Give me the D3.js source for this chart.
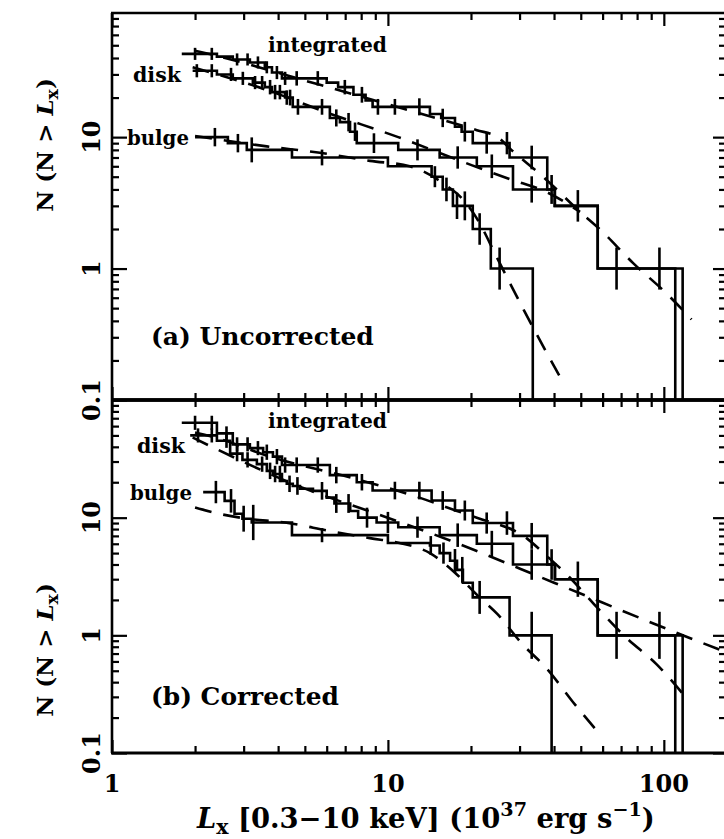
<!DOCTYPE html>
<html><head><meta charset="utf-8">
<script src="https://cdn.jsdelivr.net/npm/d3@7/dist/d3.min.js"></script>
<style>body{margin:0;background:#fff}svg{display:block}</style>
</head><body>
<svg id="c" width="724" height="839"></svg>
<script>
// ---------- DATA ----------
// step curves: segment i spans L[i]..L[i+1] at level N[i]; last point drops to zero
const intA_L  = [1.79,2.40,2.74,3.16,3.58,3.80,4.13,6.0,6.6,7.5,8.3,8.8,14.2,15.6,17.5,18.5,20.3,27.6,37.8,40.3,57.6,117];
const intA_N  = [43,41,39,37,34,31,28,26,24,21,19,17,15,14,12,11,9,7,4,3,1];
const diskA_L = [1.96,2.40,2.74,3.24,3.58,3.80,4.24,4.52,6.16,6.70,7.29,7.71,10.9,15.4,21.0,28.4,40.2,57.6,110];
const diskA_N = [32,30,28,26,24,22,20,17,14,13,11,9,8,7,6,4,3,1];
const bulgeA_L = [2.0,2.63,3.08,4.49,10.0,14.4,15.8,17.2,20.3,23.6,33.5];
const bulgeA_N = [10,9,8,7,6,5,4,3,2,1];

const intB_L  = [1.79,2.40,2.74,3.16,3.53,3.83,4.13,6.16,7.71,8.8,14.4,17.5,20.3,28.4,37.8,40.3,57.6,117];
const intB_N  = [64,52,42,39,36,33,28,23,20,17,14,11.5,9,7,4,3,1];
const diskB_L = [1.92,2.40,2.68,2.97,3.35,3.64,3.83,4.13,4.30,4.52,4.80,5.35,6.0,6.4,7.3,7.8,9.1,10.9,15.4,21.0,28.4,40.3,57.6,110];
const diskB_N = [50,45,35,31,28.5,25,23.5,20.5,19.4,18.6,17.6,16.9,14.8,13.2,11.4,10,9.1,8.3,7.1,6.0,4.0,3.0,1.0];
const bulgeB_L = [2.14,2.56,2.78,2.97,3.21,4.49,10.0,14.2,15.4,16.8,17.8,18.7,20.3,27.6,39.2];
const bulgeB_N = [16.5,13.9,10.8,9.8,9.1,7.1,6.1,5.8,5.0,4.3,3.6,2.8,2.1,1.0];

// error-bar markers: [L, half-length in dex]
const intA_err = [[2.0,.046],[2.3,.046],[2.84,.046],[3.1,.046],[3.38,.046],[3.64,.046],[3.96,.05],[4.24,.05],[4.67,.055],[5.57,.055],[6.98,.055],[8.05,.06],[9.2,.06],[10.6,.06],[13.0,.065],[15.8,.07],[19.0,.075],[22.8,.08],[27.0,.085],[33.2,.09],[39.2,.11],[48.8,.12],[67.4,.16],[96.4,.16]];
const diskA_err = [[2.03,.05],[2.3,.05],[2.7,.05],[2.98,.05],[3.3,.05],[3.5,.05],[3.74,.055],[3.9,.055],[4.06,.055],[4.3,.055],[4.42,.06],[4.72,.06],[5.77,.06],[6.5,.065],[7.2,.07],[7.6,.07],[8.9,.075],[12.8,.08],[17.9,.085],[23.8,.09],[33.2,.1]];
const bulgeA_err = [[2.36,.07],[2.86,.07],[3.21,.095],[5.77,.06],[14.8,.08],[16.3,.09],[17.8,.1],[19.0,.11],[21.5,.12],[25.4,.16]];

const intB_err = [[2.0,.06],[2.3,.06],[2.6,.06],[2.84,.06],[3.1,.06],[3.38,.06],[3.64,.065],[3.96,.065],[4.24,.065],[4.67,.065],[5.57,.065],[6.5,.07],[8.05,.07],[10.6,.075],[13.0,.075],[15.8,.08],[19.0,.085],[22.8,.09],[27.0,.1],[33.2,.11],[39.2,.13],[48.8,.15],[67.4,.2],[96.4,.2]];
const diskB_err = [[2.05,.06],[2.3,.06],[2.6,.06],[2.84,.065],[3.1,.065],[3.5,.065],[3.74,.07],[3.9,.07],[4.06,.07],[4.4,.07],[4.7,.075],[5.77,.075],[6.5,.08],[7.2,.08],[8.4,.085],[10.0,.09],[12.8,.09],[17.9,.1],[23.8,.11],[33.2,.13]];
const bulgeB_err = [[2.38,.095],[2.7,.1],[3.0,.11],[3.25,.15],[5.77,.06],[14.3,.08],[15.9,.09],[17.5,.1],[18.6,.11],[21.5,.14],[33.2,.2]];

// dashed model fits: knots [L], [N]
const fitIntA_L = [2.0,2.4,5.67,13,21,25,28,36.5,49.7,58.5,77.4,102,126];
const fitIntA_N = [45.5,41.5,25,15.2,11.3,10,8.0,5.0,2.7,2.0,1.1,0.65,0.41];
const fitDiskA_L = [1.96,3.83,5.8,10.9,20.2,27.6,37.8,49.7];
const fitDiskA_N = [34,22,15.8,10,6.1,4.8,3.8,2.7];
const fitBulgeA_L = [2.0,3.64,5.67,8.61,12,16,18.6,21.1,24.9,31.3,42.8];
const fitBulgeA_N = [10.2,8.5,7.6,6.6,6.0,4.4,3.4,2.37,1.2,0.47,0.14];

const fitIntB_L = [2.0,2.4,3.83,7.5,13,17.8,21,31.8,37,45.6,57.6,73.2,94,117];
const fitIntB_N = [53,47.5,32.4,21.6,14.8,11.4,10,6.7,4.9,3.1,1.7,0.95,0.57,0.32];
const fitDiskB_L = [1.96,2.33,4.9,9.1,16.8,40,124,168];
const fitDiskB_N = [48,39.4,18,10.8,6.4,2.8,0.95,0.72];
const fitBulgeB_L = [2.0,2.36,3.09,4.24,6.16,8.6,11,14.2,17.5,21.5,24.9,30.6,37.7,46.9,58.5];
const fitBulgeB_N = [12.2,11.0,9.8,9.1,7.7,6.7,6.1,5.0,3.4,2.1,1.52,0.85,0.52,0.27,0.145];

// axis ticks
const xMajor = [1,10,100];
const xMinor = [2,3,4,5,6,7,8,9,20,30,40,50,60,70,80,90];
const yMajor = [0.1,1,10];
const yMinorA = [0.2,0.3,0.4,0.5,0.6,0.7,0.8,0.9,2,3,4,5,6,7,8,9,20,30,40,50,60,70,80];
const yMinorB = [0.2,0.3,0.4,0.5,0.6,0.7,0.8,0.9,2,3,4,5,6,7,8,9,20,30,40,50,60,70,80,90];
const xTickLabels = ["1","10","100"];
const yTickLabels = ["0.1","1","10"];

// ---------- DRAWING ----------
const svg = d3.select('#c');
const FONT = "'DejaVu Serif', serif";
const x = d3.scaleLog().domain([1,168]).range([112,726]);

const panels = [
  {y:d3.scaleLog().domain([0.1,88]).range([400,13]), top:13, bot:400, yMinor:yMinorA,
   steps:[[intA_L,intA_N,intA_err],[diskA_L,diskA_N,diskA_err],[bulgeA_L,bulgeA_N,bulgeA_err]],
   fits:[[fitIntA_L,fitIntA_N],[fitDiskA_L,fitDiskA_N],[fitBulgeA_L,fitBulgeA_N]],
   labels:[["integrated",268,52,119],["disk",133,82,48],["bulge",127,145,62]],
   name:["(a) Uncorrected",151,345,223], titleY:145},
  {y:d3.scaleLog().domain([0.1,100]).range([753,400]), top:400, bot:753, yMinor:yMinorB,
   steps:[[intB_L,intB_N,intB_err],[diskB_L,diskB_N,diskB_err],[bulgeB_L,bulgeB_N,bulgeB_err]],
   fits:[[fitIntB_L,fitIntB_N],[fitDiskB_L,fitDiskB_N],[fitBulgeB_L,fitBulgeB_N]],
   labels:[["integrated",268,428,119],["disk",137,453,48],["bulge",130,500,62]],
   name:["(b) Corrected",151,705,188], titleY:650}
];

function fitWidth(sel, w){
  const n = sel.node(); const L = n.getComputedTextLength();
  const fs = parseFloat(sel.attr('font-size'));
  sel.attr('font-size', fs*w/L);
}

panels.forEach((p,pi)=>{
  const y = p.y;
  const g = svg.append('g');
  const cid = 'clip'+pi;
  svg.append('clipPath').attr('id',cid).append('rect')
    .attr('x',112).attr('y',p.top).attr('width',614).attr('height',p.bot-p.top);
  const plot = g.append('g').attr('clip-path',`url(#${cid})`);

  // step curves
  const line = d3.line().x(d=>x(d[0])).y(d=>y(d[1]));
  p.steps.forEach(([Ls,Ns,errs])=>{
    const pts=[];
    for(let i=0;i<Ns.length;i++){pts.push([Ls[i],Ns[i]]);pts.push([Ls[i+1],Ns[i]]);}
    pts.push([Ls[Ns.length], y.domain()[0]]);
    plot.append('path').attr('d',line(pts)).attr('fill','none')
      .attr('stroke','#000').attr('stroke-width',2.6).attr('stroke-linejoin','miter');
    // error bars
    errs.forEach(([L,e])=>{
      let N=null;
      for(let i=0;i<Ns.length;i++) if(L>=Ls[i]&&L<Ls[i+1]) N=Ns[i];
      if(N===null) return;
      plot.append('line').attr('x1',x(L)).attr('x2',x(L))
        .attr('y1',y(N*Math.pow(10,e))).attr('y2',y(N*Math.pow(10,-e)))
        .attr('stroke','#000').attr('stroke-width',2.6);
    });
  });
  // fits
  const fl = d3.line().x(d=>x(d[0])).y(d=>y(d[1])).curve(d3.curveMonotoneX);
  p.fits.forEach(([Ls,Ns])=>{
    plot.append('path').attr('d',fl(Ls.map((L,i)=>[L,Ns[i]]))).attr('fill','none')
      .attr('stroke','#000').attr('stroke-width',2.6).attr('stroke-dasharray','17,12');
  });

  // axes ticks
  const tickStyle = s=>{s.select('.domain').remove(); s.selectAll('line').attr('stroke','#000').attr('stroke-width',2.2);};
  g.append('g').attr('transform',`translate(0,${p.bot})`).call(d3.axisBottom(x).tickValues(xMajor).tickSize(-13).tickFormat('')).call(tickStyle);
  g.append('g').attr('transform',`translate(0,${p.bot})`).call(d3.axisBottom(x).tickValues(xMinor).tickSize(-7).tickFormat('')).call(tickStyle);
  g.append('g').attr('transform',`translate(0,${p.top})`).call(d3.axisTop(x).tickValues(xMajor).tickSize(-13).tickFormat('')).call(tickStyle);
  g.append('g').attr('transform',`translate(0,${p.top})`).call(d3.axisTop(x).tickValues(xMinor).tickSize(-7).tickFormat('')).call(tickStyle);
  g.append('g').attr('transform',`translate(112,0)`).call(d3.axisLeft(y).tickValues(yMajor).tickSize(-15).tickFormat('')).call(tickStyle);
  g.append('g').attr('transform',`translate(112,0)`).call(d3.axisLeft(y).tickValues(p.yMinor).tickSize(-7).tickFormat('')).call(tickStyle);
  g.append('g').attr('transform',`translate(726,0)`).call(d3.axisRight(y).tickValues(yMajor).tickSize(-13).tickFormat('')).call(tickStyle);
  g.append('g').attr('transform',`translate(726,0)`).call(d3.axisRight(y).tickValues(p.yMinor).tickSize(-7).tickFormat('')).call(tickStyle);

  // frame
  g.append('line').attr('x1',112).attr('x2',112).attr('y1',p.top).attr('y2',p.bot).attr('stroke','#000').attr('stroke-width',2.6);
  g.append('line').attr('x1',111).attr('x2',726).attr('y1',p.top).attr('y2',p.top).attr('stroke','#000').attr('stroke-width',pi===0?2.4:3.6);
  g.append('line').attr('x1',111).attr('x2',726).attr('y1',p.bot).attr('y2',p.bot).attr('stroke','#000').attr('stroke-width',pi===0?3.6:3);

  // y tick labels
  yMajor.forEach((v,i)=>{
    g.append('text').attr('transform',`translate(100,${y(v)}) rotate(-90)`)
      .attr('text-anchor','middle').attr('font-family',FONT).attr('font-weight','bold')
      .attr('font-size',24).text(yTickLabels[i]);
  });

  // curve labels
  p.labels.forEach(([t,lx,ly,w])=>{
    const s = g.append('text').attr('x',lx).attr('y',ly).attr('font-family',FONT)
      .attr('font-weight','bold').attr('font-size',20).text(t);
    fitWidth(s,w);
  });
  const nm = g.append('text').attr('x',p.name[1]).attr('y',p.name[2]).attr('font-family',FONT)
    .attr('font-weight','bold').attr('font-size',24).text(p.name[0]);
  fitWidth(nm,p.name[3]);

  // y title
  const yt = g.append('text').attr('transform',`translate(53,${p.titleY}) rotate(-90)`)
    .attr('text-anchor','middle').attr('font-family',FONT).attr('font-weight','bold').attr('font-size',23);
  yt.append('tspan').text('N (N > ');
  yt.append('tspan').attr('font-style','italic').text('L');
  yt.append('tspan').attr('font-size','0.75em').attr('dy','0.3em').text('x');
  yt.append('tspan').attr('dy','-0.23em').text(')');
});

// x tick labels
xMajor.forEach((v,i)=>{
  svg.append('text').attr('x',x(v)).attr('y',792).attr('text-anchor','middle')
    .attr('font-family',FONT).attr('font-weight','bold').attr('font-size',24).text(xTickLabels[i]);
});

// x title
const xt = svg.append('text').attr('x',197).attr('y',828).attr('font-family',FONT)
  .attr('font-weight','bold').attr('font-size',23);
xt.append('tspan').attr('font-style','italic').text('L');
xt.append('tspan').attr('font-size','0.75em').attr('dy','0.3em').text('x');
xt.append('tspan').attr('dy','-0.23em').text(' [0.3\u221210 keV] (10');
xt.append('tspan').attr('font-size','0.7em').attr('dy','-0.6em').text('37');
xt.append('tspan').attr('dy','0.42em').text(' erg s');
xt.append('tspan').attr('font-size','0.7em').attr('dy','-0.6em').text('\u22121');
xt.append('tspan').attr('dy','0.42em').text(')');
fitWidth(xt,458);
</script>
</body></html>
